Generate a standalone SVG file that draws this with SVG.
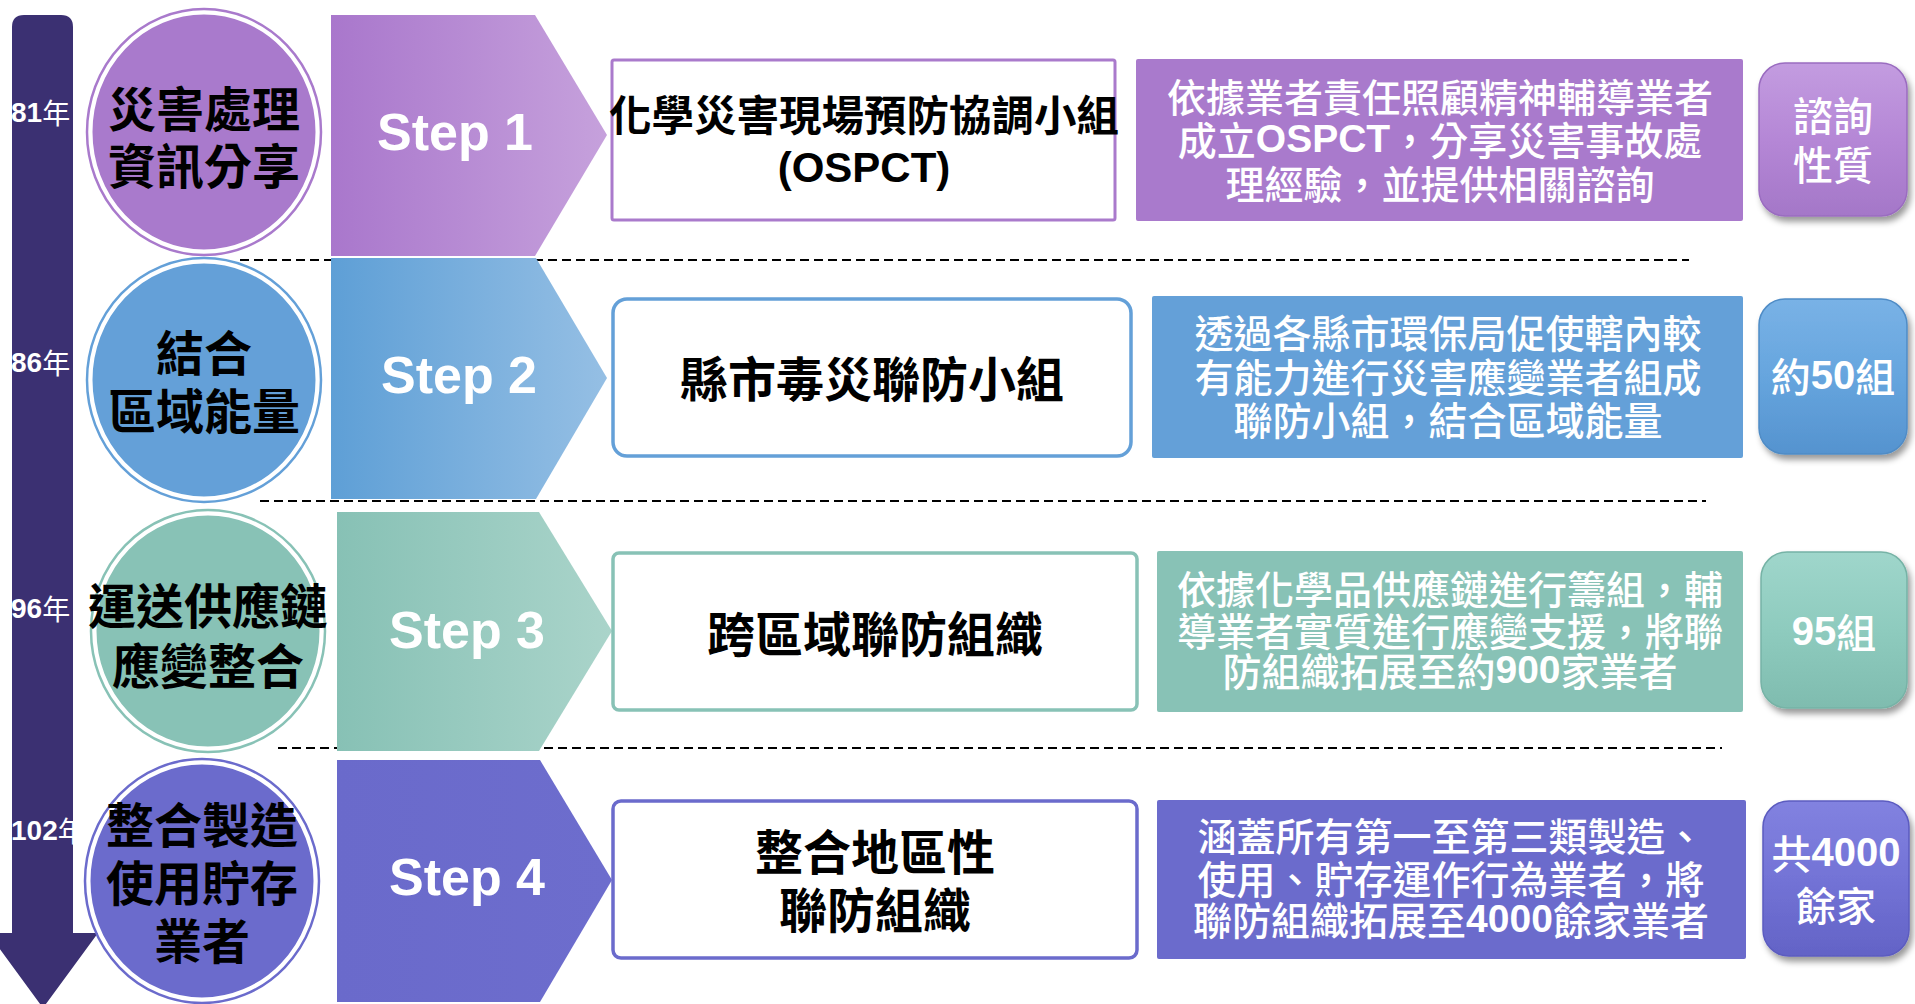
<svg xmlns="http://www.w3.org/2000/svg" width="1915" height="1004" viewBox="0 0 1915 1004">
<defs>
<linearGradient id="g1" x1="0" x2="1" y1="0" y2="0"><stop offset="0" stop-color="#a977cc"/><stop offset="1" stop-color="#c6a1dc"/></linearGradient>
<linearGradient id="g2" x1="0" x2="1" y1="0" y2="0"><stop offset="0" stop-color="#5e9fd6"/><stop offset="1" stop-color="#95bfe4"/></linearGradient>
<linearGradient id="g3" x1="0" x2="1" y1="0" y2="0"><stop offset="0" stop-color="#87c1b5"/><stop offset="1" stop-color="#aad4ca"/></linearGradient>
<linearGradient id="g4" x1="0" x2="1" y1="0" y2="0"><stop offset="0" stop-color="#6a6acb"/><stop offset="1" stop-color="#6d6dcd"/></linearGradient>
<linearGradient id="b1" x1="0" x2="0" y1="0" y2="1"><stop offset="0" stop-color="#c39ce0"/><stop offset="0.5" stop-color="#b587d6"/><stop offset="1" stop-color="#a477c8"/></linearGradient>
<linearGradient id="b2" x1="0" x2="0" y1="0" y2="1"><stop offset="0" stop-color="#79b2e6"/><stop offset="0.5" stop-color="#66a5de"/><stop offset="1" stop-color="#5593cf"/></linearGradient>
<linearGradient id="b3" x1="0" x2="0" y1="0" y2="1"><stop offset="0" stop-color="#9fd6cb"/><stop offset="0.5" stop-color="#8ecbbe"/><stop offset="1" stop-color="#7fbcaf"/></linearGradient>
<linearGradient id="b4" x1="0" x2="0" y1="0" y2="1"><stop offset="0" stop-color="#8282e0"/><stop offset="0.5" stop-color="#7373d6"/><stop offset="1" stop-color="#6363c6"/></linearGradient>
<filter id="sh" x="-20%" y="-20%" width="150%" height="150%"><feDropShadow dx="3" dy="5" stdDeviation="3" flood-color="#000" flood-opacity="0.4"/></filter>
</defs>
<style>
.step{font-family:"Liberation Sans",Arial,sans-serif;font-weight:bold;font-size:52px;fill:#fff;text-anchor:middle;dominant-baseline:central}
.ctext{font-family:"Noto Sans CJK TC","Noto Sans CJK SC",sans-serif;font-size:48px;font-weight:bold;fill:#000;text-anchor:middle;dominant-baseline:central}
.mtext{font-family:"Noto Sans CJK TC","Noto Sans CJK SC",sans-serif;font-weight:bold;fill:#000;text-anchor:middle;dominant-baseline:central}
.dtext{font-family:"Noto Sans CJK TC","Noto Sans CJK SC",sans-serif;font-size:39px;font-weight:500;fill:#fff;text-anchor:middle;dominant-baseline:central}
.btext{font-family:"Noto Sans CJK TC","Noto Sans CJK SC",sans-serif;font-size:40px;font-weight:500;fill:#fff;text-anchor:middle;dominant-baseline:central}
.year{font-family:"Noto Sans CJK TC","Noto Sans CJK SC",sans-serif;font-size:28px;fill:#fff;dominant-baseline:central}
.lat{font-family:"Liberation Sans",Arial,sans-serif;font-weight:bold}
.dash{stroke:#000;stroke-width:2;stroke-dasharray:9 5;fill:none}
.ring{fill:none;stroke-width:2.5}
</style>

<g id="connectors">
<line class="dash" x1="240" y1="260" x2="1689" y2="260"/>
<line class="dash" x1="260" y1="501" x2="1706" y2="501"/>
<line class="dash" x1="278" y1="748" x2="1722" y2="748"/>
</g>

<g id="timeline">
<path d="M12,27 Q12,15 24,15 L61,15 Q73,15 73,27 L73,933 L98,933 L43,1008 L-12,933 L12,933 Z" fill="#3b3072"/>
<text class="year" x="11" y="112"><tspan class="lat">81</tspan>年</text>
<text class="year" x="11" y="362"><tspan class="lat">86</tspan>年</text>
<text class="year" x="11" y="608"><tspan class="lat">96</tspan>年</text>
<text class="year" x="11" y="830"><tspan class="lat">102</tspan>年</text>
</g>

<g id="circle1">
<ellipse cx="204" cy="132" rx="117" ry="123" class="ring" stroke="#a97acc"/>
<ellipse cx="204" cy="132" rx="113" ry="119" fill="#a97acc" stroke="#fff" stroke-width="3"/>
<text class="ctext" x="204" y="106">災害處理</text>
<text class="ctext" x="204" y="163">資訊分享</text>
</g>
<g id="circle2">
<ellipse cx="204" cy="380" rx="117" ry="122" class="ring" stroke="#64a0d8"/>
<ellipse cx="204" cy="380" rx="113" ry="118" fill="#64a0d8" stroke="#fff" stroke-width="3"/>
<text class="ctext" x="204" y="350">結合</text>
<text class="ctext" x="204" y="408">區域能量</text>
</g>
<g id="circle3">
<ellipse cx="208" cy="631" rx="117" ry="121" class="ring" stroke="#88c2b6"/>
<ellipse cx="208" cy="631" rx="113" ry="117" fill="#88c2b6" stroke="#fff" stroke-width="3"/>
<text class="ctext" x="208" y="603">運送供應鏈</text>
<text class="ctext" x="208" y="663">應變整合</text>
</g>
<g id="circle4">
<ellipse cx="202" cy="881" rx="117" ry="122" class="ring" stroke="#6b6bcc"/>
<ellipse cx="202" cy="881" rx="113" ry="118" fill="#6b6bcc" stroke="#fff" stroke-width="3"/>
<text class="ctext" x="202" y="822">整合製造</text>
<text class="ctext" x="202" y="880">使用貯存</text>
<text class="ctext" x="202" y="938">業者</text>
</g>

<g id="step1">
<polygon points="331,15 535,15 607,135 535,256 331,256" fill="url(#g1)"/>
<text class="step" x="455" y="132">Step 1</text>
</g>
<g id="step2">
<polygon points="331,258 536,258 607,378 536,499 331,499" fill="url(#g2)"/>
<text class="step" x="459" y="375">Step 2</text>
</g>
<g id="step3">
<polygon points="337,512 539,512 612,631 539,751 337,751" fill="url(#g3)"/>
<text class="step" x="467" y="630">Step 3</text>
</g>
<g id="step4">
<polygon points="337,760 540,760 612,880 540,1002 337,1002" fill="url(#g4)"/>
<text class="step" x="467" y="877">Step 4</text>
</g>

<g id="box1">
<rect x="612" y="60" width="503" height="160" rx="2" fill="#fff" stroke="#aa7acc" stroke-width="3"/>
<text class="mtext" x="864" y="112" font-size="42.5px">化學災害現場預防協調小組</text>
<text x="864" y="167" font-size="42px" font-family="Liberation Sans, Arial, sans-serif" font-weight="bold" fill="#000" text-anchor="middle" dominant-baseline="central">(OSPCT)</text>
</g>
<g id="box2">
<rect x="613" y="299" width="518" height="157" rx="14" fill="#fff" stroke="#64a0d8" stroke-width="3.5"/>
<text class="mtext" x="872" y="376" font-size="48px">縣市毒災聯防小組</text>
</g>
<g id="box3">
<rect x="613" y="553" width="524" height="157" rx="6" fill="#fff" stroke="#88c2b6" stroke-width="3.5"/>
<text class="mtext" x="875" y="631" font-size="48px">跨區域聯防組織</text>
</g>
<g id="box4">
<rect x="613" y="801" width="524" height="157" rx="8" fill="#fff" stroke="#6b6bcc" stroke-width="3.5"/>
<text class="mtext" x="875" y="849" font-size="48px">整合地區性</text>
<text class="mtext" x="875" y="907" font-size="48px">聯防組織</text>
</g>

<g id="desc1">
<rect x="1136" y="59" width="607" height="162" rx="2" fill="#a97acc"/>
<text class="dtext" x="1440" y="95">依據業者責任照顧精神輔導業者</text>
<text class="dtext" x="1440" y="138">成立<tspan class="lat">OSPCT</tspan>，分享災害事故處</text>
<text class="dtext" x="1440" y="182">理經驗，並提供相關諮詢</text>
</g>
<g id="desc2">
<rect x="1152" y="296" width="591" height="162" rx="2" fill="#64a0d8"/>
<text class="dtext" x="1448" y="331">透過各縣市環保局促使轄內較</text>
<text class="dtext" x="1448" y="375">有能力進行災害應變業者組成</text>
<text class="dtext" x="1448" y="418">聯防小組，結合區域能量</text>
</g>
<g id="desc3">
<rect x="1157" y="551" width="586" height="161" rx="2" fill="#88c2b6"/>
<text class="dtext" x="1450" y="587" font-size="37.5px">依據化學品供應鏈進行籌組，輔</text>
<text class="dtext" x="1450" y="629" font-size="37.5px">導業者實質進行應變支援，將聯</text>
<text class="dtext" x="1450" y="669" font-size="37.5px">防組織拓展至約<tspan class="lat">900</tspan>家業者</text>
</g>
<g id="desc4">
<rect x="1157" y="800" width="589" height="159" rx="2" fill="#6b6bcc"/>
<text class="dtext" x="1451" y="834">涵蓋所有第一至第三類製造、</text>
<text class="dtext" x="1451" y="877">使用、貯存運作行為業者，將</text>
<text class="dtext" x="1451" y="918">聯防組織拓展至<tspan class="lat">4000</tspan>餘家業者</text>
</g>

<g id="badge1">
<rect x="1759" y="63" width="148" height="153" rx="26" fill="url(#b1)" stroke="#9a6cc0" stroke-width="1.5" filter="url(#sh)"/>
<text class="btext" x="1833" y="114">諮詢</text>
<text class="btext" x="1833" y="163">性質</text>
</g>
<g id="badge2">
<rect x="1759" y="299" width="148" height="155" rx="26" fill="url(#b2)" stroke="#4f8cc6" stroke-width="1.5" filter="url(#sh)"/>
<text class="btext" x="1833" y="375">約<tspan class="lat">50</tspan>組</text>
</g>
<g id="badge3">
<rect x="1761" y="552" width="146" height="156" rx="26" fill="url(#b3)" stroke="#76b3a6" stroke-width="1.5" filter="url(#sh)"/>
<text class="btext" x="1834" y="631"><tspan class="lat">95</tspan>組</text>
</g>
<g id="badge4">
<rect x="1763" y="801" width="146" height="155" rx="26" fill="url(#b4)" stroke="#5c5cc0" stroke-width="1.5" filter="url(#sh)"/>
<text class="btext" x="1836" y="852">共<tspan class="lat">4000</tspan></text>
<text class="btext" x="1836" y="904">餘家</text>
</g>
</svg>
